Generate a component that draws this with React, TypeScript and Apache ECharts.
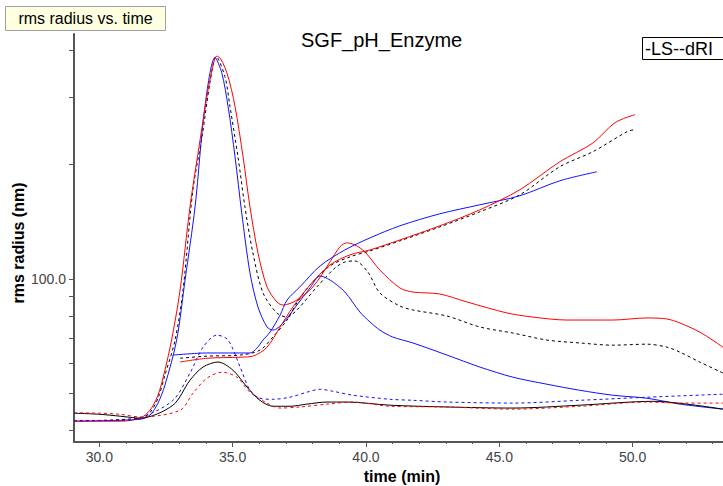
import React, { useEffect, useRef } from 'react';
import * as echarts from 'echarts';

// Axis ticks / labels
const xLabelValues = [30, 35, 40, 45, 50];
const xMinorTickValues = [30, 31, 32, 33, 34, 35, 36, 37, 38, 39, 40, 41, 42, 43, 44, 45, 46, 47, 48, 49, 50, 51, 52, 53];
const yLabelValues = [100];
const yTickValues = [40, 50, 60, 70, 80, 90, 100, 200, 300, 400];

// LS signals (arbitrary units drawn on rms axis) — [time (min), value]
const redLS: [number, number][] = [[29.05,42.3],[30.78,42.3],[31.53,43.1],[31.90,45.2],[32.20,49.5],[32.46,57.6],[32.71,69.1],[33.03,93.6],[33.40,154.7],[33.78,232.2],[34.08,314.4],[34.34,381.6],[34.43,384.6],[34.78,348.3],[35.09,283.5],[35.39,209.4],[35.65,154.7],[35.95,117.0],[36.29,95.3],[36.66,87.0],[36.89,85.4],[37.41,88.0],[38.01,95.3],[38.65,110.8],[39.02,121.4],[39.28,124.4],[39.58,122.9],[39.96,117.8],[40.52,105.6],[41.27,94.7],[41.76,92.4],[42.77,91.3],[43.79,87.0],[45.29,81.4],[46.26,79.4],[47.54,78.0],[49.26,78.0],[50.54,79.0],[51.29,78.5],[51.78,76.6],[52.52,72.5],[53.39,66.2]];
const blackLS: [number, number][] = [[29.05,42.3],[31.53,43.1],[31.90,44.6],[32.20,48.6],[32.46,55.9],[32.84,69.1],[33.14,93.6],[33.51,171.5],[33.85,236.0],[34.15,328.0],[34.38,383.9],[34.71,340.1],[34.90,283.5],[35.20,209.4],[35.46,154.7],[35.76,117.0],[36.14,91.9],[36.66,81.4],[37.04,79.4],[37.41,82.9],[38.16,95.3],[38.84,106.9],[39.21,110.8],[39.58,111.5],[40.07,104.3],[40.52,91.9],[41.27,84.9],[41.76,82.9],[43.04,79.9],[44.27,74.8],[45.51,72.1],[46.79,69.1],[48.02,67.9],[49.26,67.0],[50.54,67.4],[51.29,66.2],[51.78,64.2],[52.52,60.5],[53.39,56.6]];
const blueLS: [number, number][] = [[29.05,42.3],[31.53,42.8],[31.90,43.9],[32.20,47.2],[32.46,52.6],[32.90,69.1],[33.22,100.0],[33.59,154.7],[33.96,283.5],[34.34,381.6],[34.59,348.3],[34.83,283.5],[35.09,209.4],[35.34,149.2],[35.65,103.7],[35.95,84.4],[36.29,74.8],[36.51,73.4],[36.89,76.6],[37.41,85.4],[37.90,94.7],[38.28,101.8],[38.65,99.4],[39.21,92.4],[39.77,81.9],[40.15,77.1],[40.52,73.4],[41.00,70.4],[41.76,67.9],[43.04,63.1],[44.27,58.7],[45.51,55.2],[46.79,52.9],[48.02,51.0],[49.26,49.5],[50.54,48.6],[51.78,46.9],[53.39,45.5]];

// dRI signals
const redDRI: [number, number][] = [[29.05,44.5],[30.03,44.4],[30.78,44.1],[31.53,43.4],[33.03,45.2],[33.51,50.1],[34.04,54.9],[34.60,56.9],[35.16,55.2],[35.65,50.4],[36.29,47.2],[36.78,45.8],[37.52,46.1],[38.54,46.9],[39.51,47.5],[40.90,46.3],[43.04,46.1],[45.51,45.5],[48.02,46.3],[50.54,47.5],[51.78,47.2],[53.39,47.2]];
const blackDRI: [number, number][] = [[29.05,44.4],[30.03,44.1],[30.78,43.6],[31.53,43.1],[32.76,46.6],[33.40,54.2],[33.89,58.7],[34.45,60.5],[35.01,57.6],[35.54,52.0],[36.02,48.0],[36.51,46.3],[37.15,46.3],[37.78,46.9],[38.54,47.5],[39.28,47.5],[40.90,46.6],[43.04,46.1],[45.51,45.8],[48.02,46.6],[50.76,47.7],[53.39,45.5]];
const blueDRI: [number, number][] = [[29.05,42.5],[30.78,42.5],[31.53,43.1],[32.76,48.0],[33.40,56.6],[33.89,66.2],[34.41,71.2],[34.83,69.1],[35.28,58.7],[35.65,51.0],[36.02,48.6],[36.51,48.3],[37.15,48.9],[37.78,50.4],[38.28,51.3],[38.76,50.7],[39.51,49.5],[40.90,48.3],[41.76,48.0],[43.04,47.5],[45.51,47.2],[48.02,48.0],[50.54,48.9],[53.39,49.8]];

// rms radius (nm)
const redRMS: [number, number][] = [[33.03,60.5],[34.04,61.9],[35.28,62.3],[35.76,62.7],[36.29,66.2],[36.78,74.8],[37.26,84.4],[37.90,96.4],[38.65,108.8],[39.40,115.7],[40.15,119.2],[41.27,126.6],[42.77,137.9],[44.27,151.9],[45.77,171.5],[47.27,203.2],[48.51,227.6],[49.34,257.4],[50.09,270.2]];
const blackRMS: [number, number][] = [[33.03,61.9],[34.04,62.7],[35.28,63.1],[36.02,65.0],[36.51,70.4],[37.04,78.0],[37.41,86.5],[37.90,96.4],[38.65,108.2],[39.40,114.3],[40.15,118.5],[41.27,125.9],[42.77,137.0],[44.27,150.1],[45.77,166.4],[47.27,197.2],[48.51,215.9],[49.79,243.7],[50.05,246.6]];
const blueRMS: [number, number][] = [[32.76,63.1],[34.04,63.9],[35.65,63.9],[35.91,65.8],[36.14,69.1],[36.40,72.5],[36.78,80.4],[37.04,88.0],[37.52,95.3],[38.28,108.2],[39.21,119.2],[40.15,128.2],[41.27,137.9],[42.77,148.3],[44.27,156.6],[45.77,165.4],[47.27,181.1],[48.66,191.2]];

const RED = '#ff0000';
const BLUE = '#1010ff';
const BLACK = '#000000';
const FONT = 'Liberation Sans, Arial, sans-serif';

function line(name: string, data: [number, number][], color: string, dashed: boolean) {
  return {
    name,
    type: 'line',
    data,
    showSymbol: false,
    smooth: 0.3,
    lineStyle: { color, width: 1, type: dashed ? [3, 3] : 'solid' },
    itemStyle: { color },
    emphasis: { disabled: true },
  };
}

export default function App() {
  const ref = useRef<HTMLDivElement>(null);
  useEffect(() => {
    const chart = echarts.init(ref.current!, null, { renderer: 'svg' });
    chart.setOption({
      animation: false,
      backgroundColor: '#ffffff',
      title: {
        text: 'SGF_pH_Enzyme',
        left: 296,
        top: 25,
        textStyle: { fontFamily: FONT, fontSize: 20, fontWeight: 'normal', color: '#000' },
      },
      grid: { left: 74, right: 0, top: 34, bottom: 44, containLabel: false, outerBoundsMode: 'none' },
      xAxis: [
        {
          type: 'value',
          min: 29.05,
          max: 53.39,
          axisLine: { show: true, lineStyle: { color: '#555', width: 2 } },
          axisTick: { show: true, customValues: xLabelValues, length: 5, lineStyle: { color: '#555' } },
          axisLabel: {
            customValues: xLabelValues,
            formatter: (v: number) => v.toFixed(1),
            color: '#444',
            fontFamily: FONT,
            fontSize: 14,
            margin: 8,
          },
          splitLine: { show: false },
        },
        {
          type: 'value',
          min: 29.05,
          max: 53.39,
          position: 'bottom',
          axisLine: { show: false },
          axisTick: { show: true, customValues: xMinorTickValues, length: 2, lineStyle: { color: '#555' } },
          axisLabel: { show: false },
          splitLine: { show: false },
        },
      ],
      yAxis: {
        type: 'log',
        min: 37.3,
        max: 440,
        axisLine: { show: true, lineStyle: { color: '#555', width: 2 } },
        axisTick: { show: true, customValues: yTickValues, length: 5, lineStyle: { color: '#555' } },
        axisLabel: {
          customValues: yLabelValues,
          formatter: (v: number) => Number(v).toFixed(1),
          color: '#444',
          fontFamily: FONT,
          fontSize: 14,
          margin: 8,
        },
        splitLine: { show: false },
      },
      series: [
        line('LS black', blackLS, BLACK, true),
        line('LS blue', blueLS, BLUE, false),
        line('LS red', redLS, RED, false),
        line('dRI black', blackDRI, BLACK, false),
        line('dRI blue', blueDRI, BLUE, true),
        line('dRI red', redDRI, RED, true),
        line('rms radius black', blackRMS, BLACK, true),
        line('rms radius blue', blueRMS, BLUE, false),
        line('rms radius red', redRMS, RED, false),
      ],
      graphic: [
        {
          type: 'group',
          left: 5,
          top: 6,
          children: [
            { type: 'rect', shape: { x: 0, y: 0, width: 160, height: 24 }, style: { fill: '#ffffe1', stroke: '#a0a0a0', lineWidth: 1 } },
            { type: 'text', x: 80, y: 12, style: { text: 'rms radius vs. time', fill: '#000', font: `16px ${FONT}`, align: 'center', verticalAlign: 'middle' } },
          ],
        },
        {
          type: 'group',
          left: 642,
          top: 37,
          children: [
            { type: 'rect', shape: { x: 0.5, y: 0.5, width: 90, height: 22 }, style: { fill: '#fff', stroke: '#000', lineWidth: 1 } },
            { type: 'text', x: 3, y: 12, style: { text: '-LS--dRI', fill: '#000', font: `18px ${FONT}`, align: 'left', verticalAlign: 'middle' } },
          ],
        },
        {
          type: 'text',
          x: 402,
          y: 476,
          style: { text: 'time (min)', fill: '#000', font: `bold 16px ${FONT}`, align: 'center', verticalAlign: 'middle' },
        },
        {
          type: 'text',
          x: 18,
          y: 243,
          rotation: Math.PI / 2,
          style: { text: 'rms radius (nm)', fill: '#000', font: `bold 16px ${FONT}`, align: 'center', verticalAlign: 'middle' },
        },
      ],
    });
    return () => chart.dispose();
  }, []);
  return <div ref={ref} style={{ position: 'fixed', left: 0, top: 0, width: 723, height: 486 }} />;
}
